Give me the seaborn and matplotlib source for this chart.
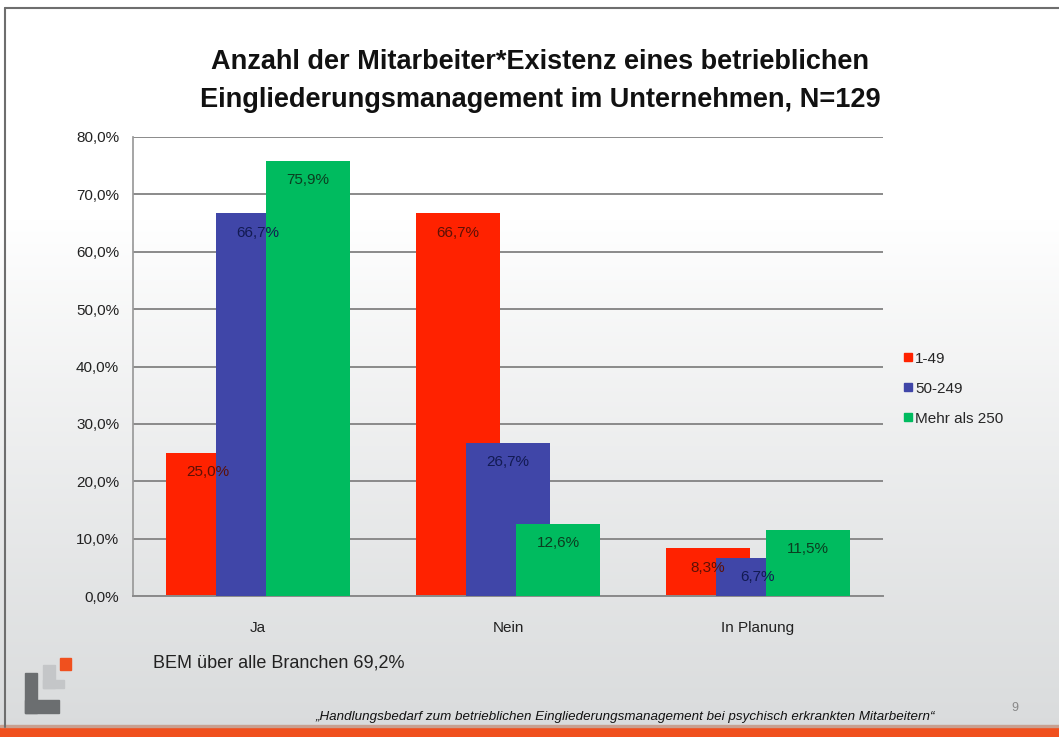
import numpy as np
import pandas as pd
import matplotlib
matplotlib.use('Agg')
import matplotlib.pyplot as plt
from matplotlib.patches import Rectangle
from matplotlib.lines import Line2D
import seaborn as sns

# data
categories = ['Ja', 'Nein', 'In Planung']
groups = ['1-49', '50-249', 'Mehr als 250']
vals_small = [25.0, 66.7, 8.3]
vals_mid = [66.7, 26.7, 6.7]
vals_large = [75.9, 12.6, 11.5]
y_ticks = [0, 10, 20, 30, 40, 50, 60, 70, 80]

bar_colors = ['#ff2200', '#4046a8', '#00bb5f']
label_colors = ['#5c1006', '#121a52', '#0b3d20']

df = pd.DataFrame({
    'Antwort': categories * 3,
    'Groesse': [g for g in groups for _ in categories],
    'Anteil': vals_small + vals_mid + vals_large,
})

sns.set_theme(style='white')
FONT = ['Liberation Sans', 'DejaVu Sans']
plt.rcParams['font.family'] = FONT

fig = plt.figure(figsize=(10.59, 7.37), dpi=100)

# slide background: white fading to light grey
bg = fig.add_axes([0, 0, 1, 1], zorder=-10)
grad = np.linspace(0, 1, 256)
grad = np.clip((grad - 0.3) / 0.7, 0, 1) ** 0.9
bg.imshow(grad[:, None], aspect='auto', cmap=matplotlib.colors.LinearSegmentedColormap.from_list(
    'bg', ['#ffffff', '#d9dbdc']), extent=[0, 1, 0, 1], origin='upper')
bg.set_xlim(0, 1)
bg.set_ylim(0, 1)
bg.axis('off')

W, H = 1059, 737
ax = fig.add_axes([133 / W, (H - 596) / H, 750 / W, (596 - 137) / H])
ax.set_facecolor('none')

sns.barplot(data=df, x='Antwort', y='Anteil', hue='Groesse', order=categories,
            hue_order=groups, palette=bar_colors, width=0.6, saturation=1,
            errorbar=None, ax=ax, legend=False)

# Excel style overlapping bars: widen each bar around its centre
new_w = 84 / 250
for i, bars in enumerate(ax.containers):
    for patch in bars:
        cx = patch.get_x() + patch.get_width() / 2
        patch.set_width(new_w)
        patch.set_x(cx - new_w / 2)
        patch.set_linewidth(0)
        patch.set_zorder(2 + i)

for i, bars in enumerate(ax.containers):
    for patch, v in zip(bars, bars.datavalues):
        cx = patch.get_x() + patch.get_width() / 2
        ax.annotate(f'{v:.1f}%'.replace('.', ','), (cx, v), xytext=(0, -14),
                    textcoords='offset points', ha='center', va='center',
                    fontsize=11, color=label_colors[i], zorder=10)

ax.set_ylim(0, 80)
ax.set_xlim(-0.5, 2.5)
ax.set_yticks(y_ticks)
ax.set_yticklabels([f'{t:.1f}%'.replace('.', ',') for t in y_ticks], fontsize=11, color='#222222')
ax.set_xticks(range(3))
ax.set_xticklabels(categories, fontsize=11, color='#222222')
ax.tick_params(axis='x', length=0, pad=18)
ax.tick_params(axis='y', length=0, pad=10)
ax.set_xlabel('')
ax.set_ylabel('')
ax.yaxis.grid(True, color='#8a8a8a', linewidth=1.4, zorder=0)
ax.set_axisbelow(True)
for side in ['top', 'right']:
    ax.spines[side].set_visible(False)
ax.spines['left'].set_color('#9a9a9a')
ax.spines['bottom'].set_color('#8a8a8a')
ax.spines['bottom'].set_linewidth(1.4)

handles = [Line2D([], [], marker='s', linestyle='none', markersize=6, color=c) for c in bar_colors]
fig.legend(handles, groups, loc='upper left', bbox_to_anchor=(897 / W, 1 - 344 / H),
           frameon=False, fontsize=11, handlelength=0.5, handletextpad=0.2,
           labelspacing=1.05, borderpad=0)

fig.text(540 / W, 1 - 81 / H, 'Anzahl der Mitarbeiter*Existenz eines betrieblichen\n'
         'Eingliederungsmanagement im Unternehmen, N=129',
         ha='center', va='center', fontsize=19.5, fontweight='bold', color='#111111',
         linespacing=1.6)

fig.text(153 / W, 1 - 663 / H, 'BEM über alle Branchen 69,2%', ha='left', va='center',
         fontsize=13, color='#222222')
fig.text(625 / W, 1 - 717 / H,
         '„Handlungsbedarf zum betrieblichen Eingliederungsmanagement bei psychisch erkrankten Mitarbeitern“',
         ha='center', va='center', fontsize=9.6, style='italic', color='#111111')
fig.text(1015 / W, 1 - 708 / H, '9', ha='center', va='center', fontsize=9, color='#888888')

# slide frame, orange footer band and logo
fig.add_artist(Line2D([5 / W, 1], [1 - 8 / H, 1 - 8 / H], color='#6e6e6e', lw=1.5))
fig.add_artist(Line2D([5 / W, 5 / W], [1 - 8 / H, 10 / H], color='#6e6e6e', lw=1.5))
fig.add_artist(Rectangle((0, 0), 1, 10 / H, color='#f0501e', transform=fig.transFigure))
fig.add_artist(Rectangle((0, 10 / H), 1, 2 / H, color='#c8a090', transform=fig.transFigure))
logo = [
    (43, 665, 12, 23, '#c4c6c8'), (43, 680, 21, 8, '#c4c6c8'),
    (25, 673, 12, 40, '#6b6e70'), (25, 700, 34, 13, '#6b6e70'),
    (60, 658, 11, 12, '#f0501e'),
]
for x0, y0, w, h, c in logo:
    fig.add_artist(Rectangle((x0 / W, 1 - (y0 + h) / H), w / W, h / H, color=c,
                             transform=fig.transFigure))

fig.savefig('out.png', dpi=100)
